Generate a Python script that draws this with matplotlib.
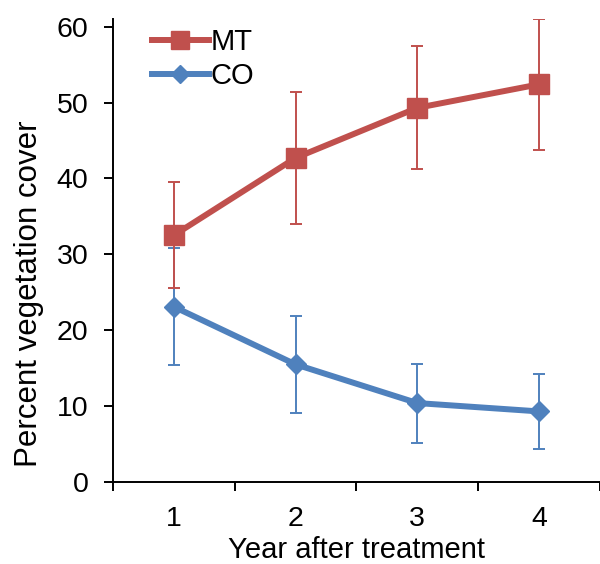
import matplotlib
matplotlib.use("Agg")
import matplotlib.pyplot as plt
from matplotlib.lines import Line2D

plt.rcParams['font.family'] = ['Liberation Sans', 'DejaVu Sans']

years = [1, 2, 3, 4]
year_labels = ["1", "2", "3", "4"]
mt_mean = [32.5, 42.7, 49.3, 52.4]
mt_err = [7.0, 8.75, 8.1, 8.6]
co_mean = [23.1, 15.5, 10.4, 9.3]
co_err = [7.7, 6.4, 5.2, 4.9]

red = "#C0504D"
blue = "#4F81BD"

fig = plt.figure(figsize=(6.0, 5.64), dpi=100)
ax = fig.add_axes([0.188, 0.1454, 0.812, 0.8208])

ax.errorbar(years, co_mean, yerr=co_err, color=blue, lw=4.3, marker='D', ms=10,
            mec=blue, ecolor=blue, elinewidth=1.4, capsize=4.3, capthick=1.4, zorder=3)
ax.errorbar(years, mt_mean, yerr=mt_err, color=red, lw=4.3, marker='s', ms=14,
            mec=red, ecolor=red, elinewidth=1.4, capsize=4.3, capthick=1.4, zorder=4)

ax.set_xlim(0.5, 4.5)
ax.set_ylim(0, 61)
ax.set_yticks([0, 10, 20, 30, 40, 50, 60])
ax.set_xticks(years)
ax.set_xticklabels(year_labels)
ax.set_xticks([0.5, 1.5, 2.5, 3.5, 4.5], minor=True)
ax.tick_params(axis='x', which='major', length=0, pad=17, labelsize=20.5)
ax.tick_params(axis='x', which='minor', length=6.5, width=1.4, direction='out')
ax.tick_params(axis='y', length=6.5, width=1.4, direction='out', labelsize=20.5, pad=11)

for s in ['top', 'right']:
    ax.spines[s].set_visible(False)
for s in ['left', 'bottom']:
    ax.spines[s].set_linewidth(1.4)

ax.set_ylabel("Percent vegetation cover", fontsize=22.5)
ax.yaxis.set_label_coords(-0.142, 0.406)
ax.set_xlabel("Year after treatment", fontsize=21)
ax.xaxis.set_label_coords(0.501, -0.1166)

handles = [Line2D([], [], color=red, lw=4.3, marker='s', ms=13, mec=red),
           Line2D([], [], color=blue, lw=4.3, marker='D', ms=9.5, mec=blue)]
ax.legend(handles, ["MT", "CO"], loc='upper left', bbox_to_anchor=(0.026, 1.038),
          frameon=False, fontsize=21, handlelength=1.95, handletextpad=0.08,
          labelspacing=0.22)

fig.savefig("out.png", dpi=100)
